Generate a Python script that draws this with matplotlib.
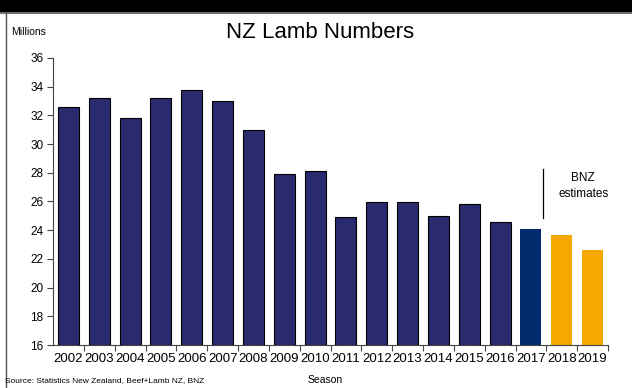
import matplotlib
matplotlib.use("Agg")
import matplotlib.pyplot as plt
from matplotlib.patches import Rectangle
from matplotlib.lines import Line2D

plt.rcParams['font.family'] = ['Liberation Sans', 'DejaVu Sans']

years = ['2002', '2003', '2004', '2005', '2006', '2007', '2008', '2009', '2010',
         '2011', '2012', '2013', '2014', '2015', '2016', '2017', '2018', '2019']
lambs = [32.6, 33.2, 31.85, 33.2, 33.8, 33.0, 31.0, 27.9, 28.15,
         24.95, 25.95, 25.95, 25.0, 25.85, 24.55, 24.1, 23.7, 22.65]
kind = ['actual'] * 15 + ['latest'] + ['estimate'] * 2

colors = {'actual': '#2A2A6E', 'latest': '#002C6E', 'estimate': '#F5A800'}
edges = {'actual': '#000000', 'latest': 'none', 'estimate': 'none'}

fig = plt.figure(figsize=(6.32, 3.88), dpi=100)
# top black band and frame
fig.add_artist(Rectangle((0, 1 - 11 / 388), 1, 11 / 388, transform=fig.transFigure,
                         color='black', zorder=0))
fig.add_artist(Line2D([0, 1], [1 - 13 / 388, 1 - 13 / 388], transform=fig.transFigure,
                      color='#555555', lw=1.2))
fig.add_artist(Line2D([6 / 632, 6 / 632], [0, 1 - 13 / 388], transform=fig.transFigure,
                      color='#555555', lw=1.0))

ax = fig.add_axes([53 / 632, 1 - 345 / 388, 555 / 632, 287 / 388])
x = list(range(len(years)))
for i, (v, k) in enumerate(zip(lambs, kind)):
    ax.bar(i, v - 16, bottom=16, width=0.68, color=colors[k], edgecolor=edges[k],
           linewidth=0.8 if edges[k] != 'none' else 0)

ax.set_xlim(-0.5, len(years) - 0.5)
ax.set_ylim(16, 36)
ax.set_yticks(range(16, 37, 2))
ax.tick_params(axis='y', labelsize=8.5, length=4, width=0.8, pad=3, color='#444444')
ax.set_xticks(x)
ax.set_xticklabels(years, fontsize=9.5)
ax.tick_params(axis='x', which='major', length=0, pad=6)
ax.set_xticks([i + 0.5 for i in range(len(years))], minor=True)
ax.tick_params(axis='x', which='minor', length=4, width=0.8, color='#444444')
for s in ['top', 'right']:
    ax.spines[s].set_visible(False)
for s in ['left', 'bottom']:
    ax.spines[s].set_color('#444444')
    ax.spines[s].set_linewidth(0.8)

# annotation
ax.plot([15.4, 15.4], [24.85, 28.25], color='black', lw=0.9)
ax.text(16.7, 27.1, 'BNZ\nestimates', ha='center', va='center', fontsize=8.5,
        linespacing=1.4)

fig.text(320 / 632, 1 - 33 / 388, 'NZ Lamb Numbers', ha='center', va='center', fontsize=16)
fig.text(11 / 632, 1 - 32 / 388, 'Millions', ha='left', va='center', fontsize=7.5)
fig.text(5 / 632, 1 - 381 / 388, 'Source: Statistics New Zealand, Beef+Lamb NZ, BNZ',
         ha='left', va='center', fontsize=6)
fig.text(325 / 632, 1 - 380 / 388, 'Season', ha='center', va='center', fontsize=7.5)

fig.savefig('out.png', dpi=100)
